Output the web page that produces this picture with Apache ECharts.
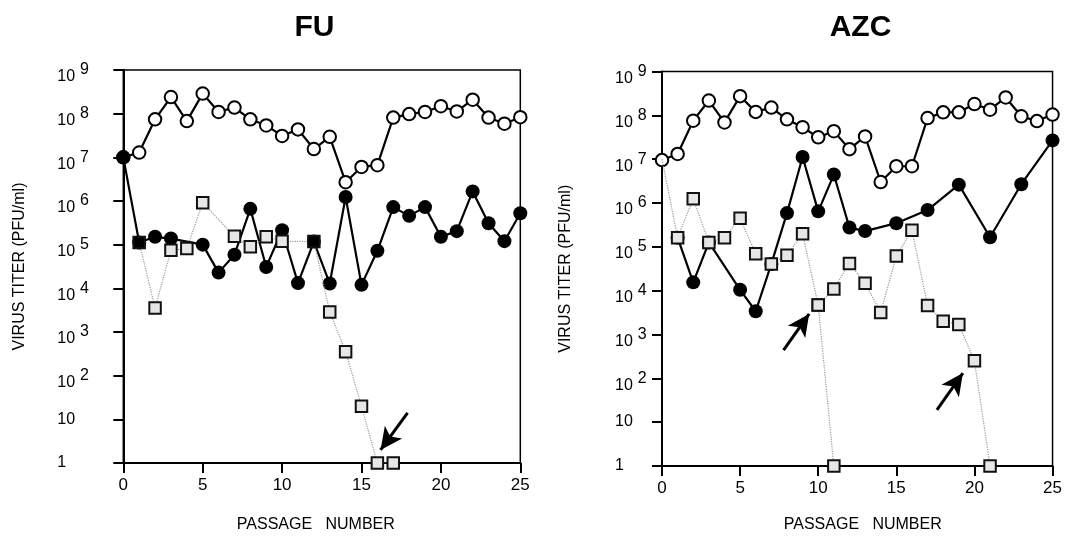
<!DOCTYPE html>
<html><head><meta charset="utf-8">
<script src="https://cdn.jsdelivr.net/npm/echarts@6/dist/echarts.min.js"></script>
<style>html,body{margin:0;padding:0;background:#fff}#c{width:1065px;height:538px}</style>
</head><body><div id="c"></div>
<script>
// Passage numbers (x) and log10 virus titer (PFU/ml)
const passages = [0,1,2,3,4,5,6,7,8,9,10,11,12,13,14,15,16,17,18,19,20,21,22,23,24,25];
const xTicks = [0,5,10,15,20,25];
const yExponents = [0,1,2,3,4,5,6,7,8,9];

// FU panel
const fuOpen   = [7.00,7.11,7.87,8.38,7.83,8.46,8.04,8.14,7.87,7.73,7.49,7.64,7.19,7.47,6.43,6.78,6.82,7.91,7.99,8.04,8.17,8.05,8.32,7.91,7.77,7.92];
const fuFilled = [7.00,5.05,5.18,5.14,null,5.00,4.36,4.77,5.82,4.49,5.33,4.12,5.07,4.11,6.09,4.08,4.86,5.86,5.66,5.86,5.18,5.31,6.22,5.49,5.08,5.72];
const fuSquare = [null,5.05,3.55,4.87,4.91,5.96,null,5.19,4.95,5.18,5.08,null,5.07,3.46,2.55,1.30,0,0,null,null,null,null,null,null,null,null];
const fuSquareFilledAt = [1,12];
const fuArrows = [[[17.9,1.15],[16.2,0.30]]];

// AZC panel
const azcOpen   = [6.98,7.12,7.88,8.34,7.84,8.44,8.08,8.18,7.91,7.73,7.50,7.64,7.23,7.52,6.48,6.84,6.84,7.94,8.07,8.07,8.26,8.13,8.41,7.98,7.87,8.02];
const azcFilled = [null,5.21,4.19,5.10,null,4.02,3.53,4.61,5.77,7.05,5.81,6.65,5.44,5.36,null,5.54,null,5.84,null,6.42,null,5.22,null,6.43,null,7.43];
const azcSquare = [7.00,5.21,6.10,5.10,5.21,5.65,4.84,4.61,4.81,5.30,3.67,4.04,4.62,4.17,3.50,4.79,5.38,3.66,3.30,3.23,2.40,0,null,null,null,null];
const azcSquareHiddenAt = [0];
const azcBranch = [null,null,null,null,null,null,null,null,null,null,3.67,0,null,null,null,null,null,null,null,null,null,null,null,null,null,null];
const azcArrows = [[[7.78,2.64],[9.42,3.47]],[[17.6,1.28],[19.26,2.12]]];

const FONT = '"Liberation Sans", Arial, Helvetica, sans-serif';

function pairs(arr, opts) {
  const out = [];
  arr.forEach((v, i) => {
    if (v === null) return;
    const item = { value: [passages[i], v] };
    if (opts && opts.filledAt && opts.filledAt.includes(passages[i])) item.itemStyle = { color: '#000' };
    if (opts && opts.hiddenAt && opts.hiddenAt.includes(passages[i])) item.symbol = 'none';
    out.push(item);
  });
  return out;
}

function yLabel(v) {
  if (v === 0) return '1';
  if (v === 1) return '10';
  return '{b|10}{s|' + v + '}';
}

function makeAxes(idx, labelMargin) {
  const x = {
    gridIndex: idx, type: 'value', min: xTicks[0], max: xTicks[xTicks.length-1], interval: 5,
    axisLine: { lineStyle: { color: '#000', width: 2 } },
    axisTick: { show: true, inside: false, length: 10, lineStyle: { color: '#000', width: 2 } },
    axisLabel: { color: '#000', fontSize: 17, fontFamily: FONT, margin: 14 },
    splitLine: { show: false },
    name: 'PASSAGE   NUMBER', nameLocation: 'middle', nameGap: idx === 0 ? 54 : 51,
    nameTextStyle: { color: '#000', fontSize: 16, fontFamily: FONT, padding: idx === 0 ? [0,12,0,0] : [0,0,0,11] }
  };
  const y = {
    gridIndex: idx, type: 'value', min: yExponents[0], max: yExponents[yExponents.length-1], interval: 1,
    axisLine: { show: true, lineStyle: { color: '#000', width: 2 } },
    axisTick: { show: true, inside: false, length: 10, lineStyle: { color: '#000', width: 2 } },
    axisLabel: {
      color: '#000', fontSize: 16, fontFamily: FONT, align: 'left', margin: labelMargin,
      formatter: yLabel,
      rich: {
        b: { fontSize: 16, fontFamily: FONT, color: '#000', padding: [14,0,0,0] },
        s: { fontSize: 16, fontFamily: FONT, color: '#000', padding: [0,0,0,5] }
      }
    },
    splitLine: { show: false },
    name: 'VIRUS TITER (PFU/ml)', nameLocation: 'middle', nameGap: idx === 0 ? 96 : 88,
    nameTextStyle: { color: '#000', fontSize: 16, fontFamily: FONT }
  };
  return { x, y };
}

function panelSeries(idx, open, filled, square, sqOpts, arrows, branch) {
  const s = [
    { type: 'line', xAxisIndex: idx, yAxisIndex: idx, data: pairs(open), z: 2,
      symbol: 'circle', symbolSize: 12.5,
      itemStyle: { color: '#fff', borderColor: '#000', borderWidth: 2 },
      lineStyle: { color: '#000', width: 2.2 } },
    { type: 'line', xAxisIndex: idx, yAxisIndex: idx, data: pairs(filled), z: 3,
      symbol: 'circle', symbolSize: 14,
      itemStyle: { color: '#000', borderColor: '#000', borderWidth: 0 },
      lineStyle: { color: '#000', width: 2.2 } },
    { type: 'line', xAxisIndex: idx, yAxisIndex: idx, data: pairs(square, sqOpts), z: 4,
      symbol: 'rect', symbolSize: 11.5,
      itemStyle: { color: '#e6e6e6', borderColor: '#111', borderWidth: 2 },
      lineStyle: { color: '#9a9a9a', width: 1.2, type: 'dotted' },
      markLine: {
        silent: true, symbol: ['none', 'arrow'], symbolSize: [16, 22], animation: false,
        label: { show: false },
        lineStyle: { color: '#000', width: 3, type: 'solid' },
        itemStyle: { color: '#000' },
        emphasis: { disabled: true },
        data: arrows.map(a => [{ coord: a[0] }, { coord: a[1] }])
      } }
  ];
  if (branch) {
    s.push({ type: 'line', xAxisIndex: idx, yAxisIndex: idx, data: pairs(branch), z: 4,
      symbol: 'rect', symbolSize: 11.5,
      itemStyle: { color: '#e6e6e6', borderColor: '#111', borderWidth: 2 },
      lineStyle: { color: '#9a9a9a', width: 1.2, type: 'dotted' } });
  }
  return s;
}

const a0 = makeAxes(0, 66);
const a1 = makeAxes(1, 47);

const option = {
  animation: false,
  backgroundColor: '#fff',
  title: [
    { text: 'FU', left: 309.5, top: 8, textAlign: 'center',
      textStyle: { fontSize: 30, fontWeight: 'bold', fontFamily: FONT, color: '#000' } },
    { text: 'AZC', left: 855.5, top: 8, textAlign: 'center',
      textStyle: { fontSize: 30, fontWeight: 'bold', fontFamily: FONT, color: '#000' } }
  ],
  grid: [
    { left: 123.3, right: 544.7, top: 70, bottom: 71.3, show: true, borderColor: '#000', borderWidth: 1.5, backgroundColor: 'transparent' },
    { left: 662, right: 10, top: 71.6, bottom: 72.1, show: true, borderColor: '#000', borderWidth: 1.5, backgroundColor: 'transparent' }
  ],
  xAxis: [a0.x, a1.x],
  yAxis: [a0.y, a1.y],
  series: [
    ...panelSeries(0, fuOpen, fuFilled, fuSquare, { filledAt: fuSquareFilledAt }, fuArrows, null),
    ...panelSeries(1, azcOpen, azcFilled, azcSquare, { hiddenAt: azcSquareHiddenAt }, azcArrows, azcBranch)
  ]
};

const chart = echarts.init(document.getElementById('c'), null, { renderer: 'canvas' });
chart.setOption(option);
</script>
</body></html>
